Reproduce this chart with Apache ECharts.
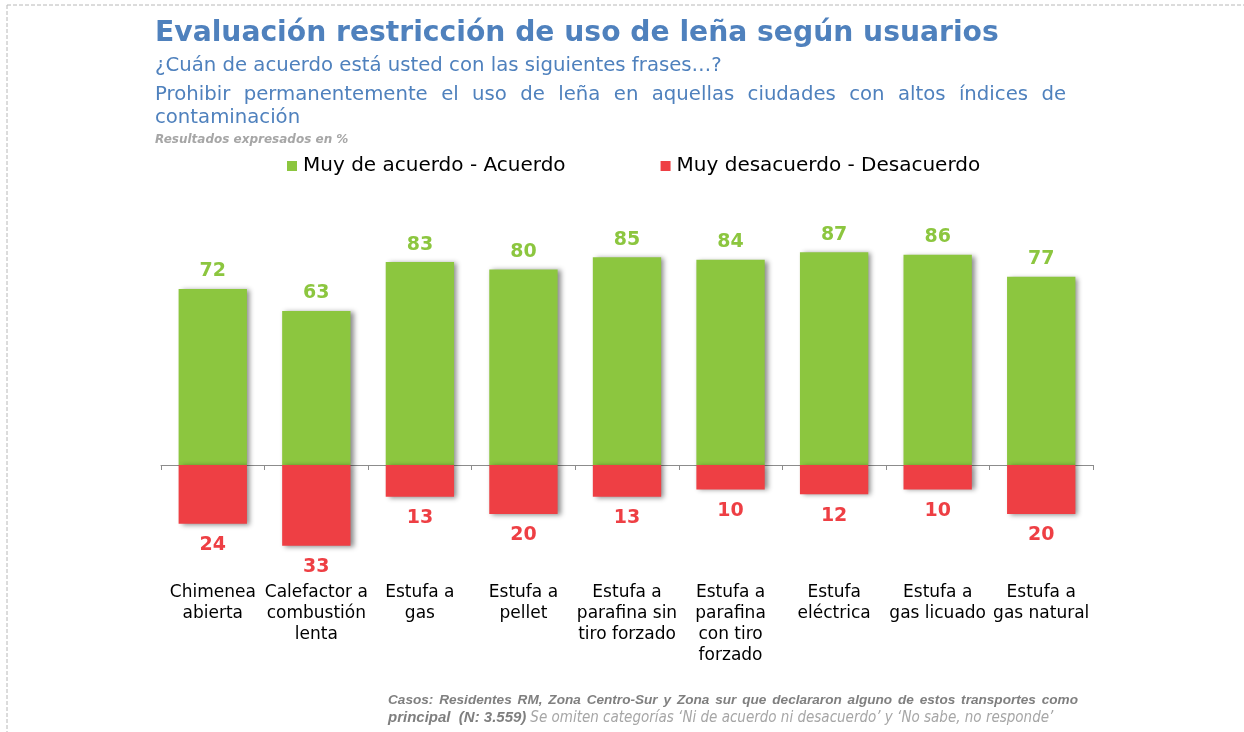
<!DOCTYPE html>
<html>
<head>
<meta charset="utf-8">
<script src="https://cdn.jsdelivr.net/npm/echarts@6/dist/echarts.min.js"></script>
<style>
  html, body { margin: 0; padding: 0; background: #ffffff; }
  #chart { width: 1244px; height: 732px; }
</style>
</head>
<body>
<div id="chart"></div>
<script>
// Categories and survey results (%)
const categories = [
  'Chimenea\nabierta',
  'Calefactor a\ncombustión\nlenta',
  'Estufa a\ngas',
  'Estufa a\npellet',
  'Estufa a\nparafina sin\ntiro forzado',
  'Estufa a\nparafina\ncon tiro\nforzado',
  'Estufa\neléctrica',
  'Estufa a\ngas licuado',
  'Estufa a\ngas natural'
];
const agree = [72, 63, 83, 80, 85, 84, 87, 86, 77];
const disagree = [24, 33, 13, 20, 13, 10, 12, 10, 20];
const seriesNames = ['Muy de acuerdo - Acuerdo', 'Muy desacuerdo - Desacuerdo'];

const titleText = 'Evaluación restricción de uso de leña según usuarios';
const questionText = '¿Cuán de acuerdo está usted con las siguientes frases…?';
const statementLine1 = 'Prohibir permanentemente el uso de leña en aquellas ciudades con altos índices de';
const statementLine2 = 'contaminación';
const unitsNote = 'Resultados expresados en %';
const sourceLine1 = 'Casos: Residentes  RM, Zona Centro-Sur y  Zona sur que declararon alguno de estos transportes como';
const sourceLine2a = 'principal  (N: 3.559)';
const sourceLine2b = 'Se omiten categorías ‘Ni de acuerdo ni desacuerdo’ y ‘No sabe, no responde’';

const GREEN = '#8cc63f';
const RED = '#ee3f44';
const BLUE = '#4f81bd';

const measureCtx = document.createElement('canvas').getContext('2d');
function textWidth(str, font) {
  measureCtx.font = font;
  return measureCtx.measureText(str).width;
}

// Lays out a line of words spread evenly across a given width
function justifiedLine(str, x, y, width, font, fill) {
  const words = str.split(/\s+/);
  const widths = words.map(w => textWidth(w, font));
  const total = widths.reduce((a, b) => a + b, 0);
  const gap = words.length > 1 ? (width - total) / (words.length - 1) : 0;
  let cx = x;
  return words.map((w, i) => {
    const el = {
      type: 'text', x: cx, y: y, silent: true,
      style: { text: w, font: font, fill: fill, align: 'left', verticalAlign: 'middle',
               textAlign: 'left', textVerticalAlign: 'middle' }
    };
    cx += widths[i] + gap;
    return el;
  });
}

function plainText(str, x, y, font, fill) {
  return {
    type: 'text', x: x, y: y, silent: true,
    style: { text: str, font: font, fill: fill, align: 'left', verticalAlign: 'middle',
             textAlign: 'left', textVerticalAlign: 'middle' }
  };
}

const titleFont = 'bold 28.2px "DejaVu Sans"';
const subFont = '19.7px "DejaVu Sans"';
const noteFont = 'italic bold 12px "DejaVu Sans"';
const srcFont1 = 'italic bold 13.6px "Liberation Sans Narrow", "Liberation Sans"';
const srcFontA = 'italic bold 15px "Liberation Sans Narrow", "Liberation Sans"';
const srcFontB = 'italic 15px "DejaVu Sans Condensed", "DejaVu Sans"';

const graphics = [
  // dashed frame edges
  { type: 'line', silent: true, shape: { x1: 7, y1: 5, x2: 1244, y2: 5 },
    style: { stroke: '#b8b8b8', lineWidth: 1, lineDash: [4, 2] } },
  { type: 'line', silent: true, shape: { x1: 7, y1: 5, x2: 7, y2: 732 },
    style: { stroke: '#b8b8b8', lineWidth: 1, lineDash: [4, 2] } },
  plainText(titleText, 155, 34, titleFont, BLUE),
  plainText(questionText, 155, 66, subFont, BLUE),
  ...justifiedLine(statementLine1, 155, 95, 911, subFont, BLUE),
  plainText(statementLine2, 155, 118, subFont, BLUE),
  plainText(unitsNote, 155, 140, noteFont, '#a6a6a6'),
  ...justifiedLine(sourceLine1, 388, 700, 690, srcFont1, '#7f7f7f'),
  plainText(sourceLine2a, 388, 718, srcFontA, '#7f7f7f'),
  plainText(sourceLine2b, 388 + textWidth(sourceLine2a, srcFontA) + 4, 718, srcFontB, '#a6a6a6')
];

const barShadow = {
  shadowColor: 'rgba(0,0,0,0.45)',
  shadowBlur: 5,
  shadowOffsetX: 3,
  shadowOffsetY: 1
};

const chart = echarts.init(document.getElementById('chart'), null, { renderer: 'canvas' });
chart.setOption({
  backgroundColor: '#ffffff',
  animation: false,
  textStyle: { fontFamily: '"DejaVu Sans"' },
  legend: {
    data: seriesNames,
    left: 287,
    top: 156,
    padding: 0,
    icon: 'rect',
    itemWidth: 10,
    itemHeight: 10,
    itemGap: 95,
    textStyle: { fontSize: 20, color: '#000000', fontFamily: '"DejaVu Sans"', padding: [0, 0, 0, 1] },
    selectedMode: false
  },
  grid: { left: 161, right: 151, top: 245, bottom: 157 },
  xAxis: [
    {
      type: 'category',
      data: categories,
      position: 'bottom',
      axisLine: { onZero: true, lineStyle: { color: '#8c8c8c', width: 1 } },
      axisTick: { show: true, length: 5, lineStyle: { color: '#8c8c8c' } },
      axisLabel: { show: false },
      splitLine: { show: false }
    },
    {
      type: 'category',
      data: categories,
      position: 'bottom',
      axisLine: { show: false },
      axisTick: { show: false },
      axisLabel: {
        show: true, interval: 0, margin: 7,
        fontSize: 17, lineHeight: 21, color: '#000000', fontFamily: '"DejaVu Sans"',
        verticalAlign: 'top'
      }
    }
  ],
  yAxis: {
    type: 'value', min: -45, max: 90, show: false,
    splitLine: { show: false }
  },
  series: [
    {
      name: seriesNames[0],
      type: 'bar',
      xAxisIndex: 0,
      data: agree,
      barWidth: '66%',
      barGap: '-100%',
      itemStyle: Object.assign({ color: GREEN }, barShadow),
      label: {
        show: true, position: 'top', distance: 8,
        color: GREEN, fontSize: 19, fontWeight: 'bold', fontFamily: '"DejaVu Sans"'
      }
    },
    {
      name: seriesNames[1],
      type: 'bar',
      xAxisIndex: 0,
      data: disagree.map(v => -v),
      barWidth: '66%',
      barGap: '-100%',
      itemStyle: Object.assign({ color: RED }, barShadow),
      label: {
        show: true, position: 'bottom', distance: 12,
        color: RED, fontSize: 19, fontWeight: 'bold', fontFamily: '"DejaVu Sans"',
        formatter: p => String(Math.abs(p.value))
      }
    }
  ],
  graphic: graphics
});
</script>
</body>
</html>
